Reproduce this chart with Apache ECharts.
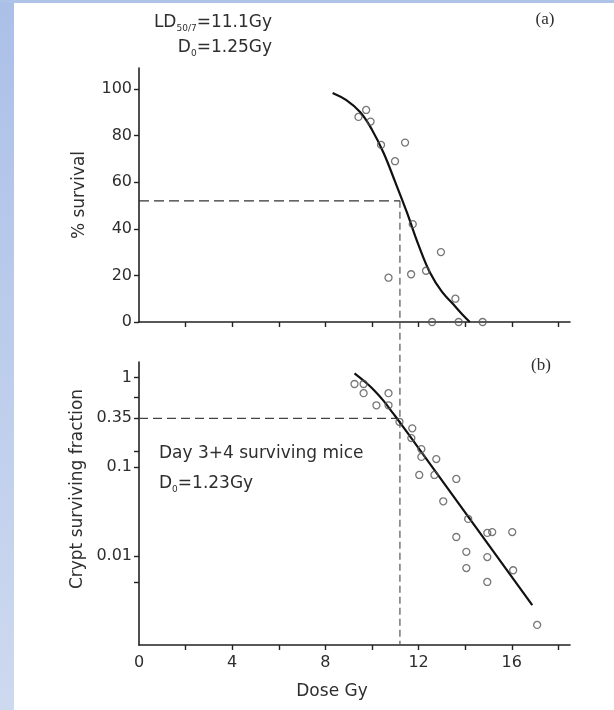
<!DOCTYPE html>
<html lang="en">
<head>
<meta charset="utf-8">
<title>Survival and crypt surviving fraction vs dose</title>
<style>
  html, body { margin: 0; padding: 0; background: #fff; }
  #stripLeft { position: absolute; left: 0; top: 0; width: 14px; height: 710px; background: linear-gradient(#abc0e8, #cdd9ef); }
  #stripTop { position: absolute; left: 0; top: 0; width: 614px; height: 3px; background: #afc3e9; }
  #main { position: absolute; left: 0; top: 0; width: 614px; height: 710px; }
</style>
</head>
<body>
<div id="stripLeft"></div>
<div id="stripTop"></div>
<div id="main"></div>

<script src="https://cdn.jsdelivr.net/npm/echarts@6/dist/echarts.min.js"></script>
<script type="text/javascript">
// (a) % survival against dose
var survDose = [9.42, 9.75, 9.94, 10.39, 11.42, 10.99, 11.75, 12.96, 12.32, 11.68, 10.71, 13.58, 12.58, 13.72, 14.75];
var survPct  = [88, 91, 86, 76, 77, 69, 42, 30, 22, 20.5, 19, 10, 0, 0, 0];
// fitted survival curve
var survFitDose = [8.31, 8.9, 9.5, 10.0, 10.5, 11.0, 11.5, 12.0, 12.5, 13.0, 13.5, 13.9, 14.2];
var survFitPct  = [98.3, 95.2, 90, 82.5, 72.5, 60, 47, 33, 21, 13, 7.5, 3, 0];

// (b) crypt surviving fraction against dose
var cryptDose = [9.25, 9.64, 9.64, 10.71, 10.19, 10.71, 11.18, 11.73, 11.69, 12.12, 12.12, 12.76, 12.68, 12.03,
                 13.62, 13.06, 14.13, 13.62, 14.05, 14.05, 14.95, 15.16, 16.02, 14.95, 14.95, 16.06, 17.09];
var cryptFrac = [0.85, 0.85, 0.67, 0.67, 0.49, 0.49, 0.32, 0.27, 0.21, 0.158, 0.129, 0.122, 0.081, 0.081,
                 0.073, 0.041, 0.026, 0.0163, 0.0111, 0.0073, 0.0181, 0.0185, 0.0185, 0.0097, 0.0051, 0.0069, 0.00168];
// fitted curve: shoulder then straight exponential tail
var cryptFitDose = [9.25, 9.7, 10.1, 10.5, 10.9, 11.18, 12.0, 16.88];
var cryptFitFrac = [1.12, 0.9, 0.72, 0.55, 0.4, 0.32, 0.162, 0.0028];

// reference lines
var ld50Dose = 11.2;
var halfPct = 52;
var cryptAtLd = 0.35;

// tick labels
var doseLabels = [0, 4, 8, 12, 16];
var doseTicks = [2, 4, 6, 8, 10, 12, 14, 16, 18];
var pctLabels = [0, 20, 40, 60, 80, 100];
var fracLabels = [0.01, 0.1, 0.35, 1];
var fracTicks = [0.005, 0.01, 0.15, 0.1, 0.35, 0.6, 1];

var FONT = 'DejaVu Sans';
var SERIF = 'Liberation Serif';
var INK = '#2e2e2e';

function pairs(xs, ys) {
  return xs.map(function (x, i) { return [x, ys[i]]; });
}

var chart = echarts.init(document.getElementById('main'));

var axisLine = { show: true, onZero: false, lineStyle: { color: '#222', width: 1.6 } };
var tickStyle = { color: '#222', width: 1.4 };

var option = {
  animation: false,
  grid: [
    { left: 139, top: 68, width: 431, height: 254 },
    { left: 139, top: 362, width: 431, height: 283 }
  ],
  xAxis: [
    {
      gridIndex: 0, type: 'value', min: 0, max: 18.5,
      axisLine: axisLine, splitLine: { show: false },
      axisTick: { length: 5, lineStyle: tickStyle, customValues: doseTicks },
      axisLabel: { show: false }
    },
    {
      gridIndex: 1, type: 'value', min: 0, max: 18.5,
      axisLine: axisLine, splitLine: { show: false },
      axisTick: { length: 5, lineStyle: tickStyle, customValues: doseTicks },
      axisLabel: { customValues: doseLabels, margin: 10, fontFamily: FONT, fontSize: 16, color: INK }
    }
  ],
  yAxis: [
    {
      gridIndex: 0, type: 'value', min: 0, max: 109,
      axisLine: axisLine, splitLine: { show: false },
      axisTick: { length: 5, lineStyle: tickStyle, customValues: pctLabels },
      axisLabel: { customValues: pctLabels, margin: 7, fontFamily: FONT, fontSize: 16, color: INK }
    },
    {
      gridIndex: 1, type: 'log', logBase: 10, min: 0.001, max: 1.5,
      axisLine: axisLine, splitLine: { show: false },
      axisTick: { length: 5, lineStyle: tickStyle, customValues: fracTicks },
      axisLabel: {
        customValues: fracLabels, margin: 7, fontFamily: FONT, fontSize: 16, color: INK,
        formatter: function (v) { return String(+Number(v).toPrecision(3)); }
      }
    }
  ],
  series: [
    {
      type: 'line', xAxisIndex: 0, yAxisIndex: 0, data: pairs(survFitDose, survFitPct),
      smooth: 0.4, symbol: 'none', lineStyle: { color: '#111', width: 2.2 }, z: 3
    },
    {
      type: 'line', xAxisIndex: 0, yAxisIndex: 0, data: [[0, halfPct], [ld50Dose, halfPct]],
      symbol: 'none', lineStyle: { color: '#333', width: 1.3, type: [10, 5] }, z: 2
    },
    {
      type: 'scatter', xAxisIndex: 0, yAxisIndex: 0, data: pairs(survDose, survPct),
      symbol: 'circle', symbolSize: 7,
      itemStyle: { color: 'rgba(255,255,255,0)', borderColor: '#555', borderWidth: 1.3 }, z: 4
    },
    {
      type: 'line', xAxisIndex: 1, yAxisIndex: 1, data: pairs(cryptFitDose, cryptFitFrac),
      smooth: 0.3, symbol: 'none', lineStyle: { color: '#111', width: 2.2 }, z: 3
    },
    {
      type: 'line', xAxisIndex: 1, yAxisIndex: 1, data: [[0, cryptAtLd], [ld50Dose - 0.15, cryptAtLd]],
      symbol: 'none', lineStyle: { color: '#444', width: 1.3, type: [9, 5] }, z: 2
    },
    {
      type: 'scatter', xAxisIndex: 1, yAxisIndex: 1, data: pairs(cryptDose, cryptFrac),
      symbol: 'circle', symbolSize: 7,
      itemStyle: { color: 'rgba(255,255,255,0)', borderColor: '#555', borderWidth: 1.3 }, z: 4
    }
  ]
};
chart.setOption(option);

// vertical LD50 line runs from panel (a) down through panel (b)
var pTop = chart.convertToPixel({ gridIndex: 0 }, [ld50Dose, halfPct]);
var pBot = chart.convertToPixel({ gridIndex: 1 }, [ld50Dose, 0.001]);

function txt(x, y, text, size, family, extra) {
  var el = {
    type: 'text', x: x, y: y, z: 10,
    style: { text: text, fontFamily: family, fontSize: size, fill: INK, align: 'center', verticalAlign: 'middle' }
  };
  if (extra) { for (var k in extra) { el[k] = extra[k]; } }
  return el;
}

var subRich = {
  n: { fontFamily: FONT, fontSize: 17, lineHeight: 20, verticalAlign: 'middle', fill: INK },
  s: { fontFamily: FONT, fontSize: 9, lineHeight: 9, verticalAlign: 'bottom', fill: INK }
};

chart.setOption({
  graphic: [
    {
      type: 'line', z: 1,
      shape: { x1: pTop[0], y1: pTop[1], x2: pBot[0], y2: pBot[1] },
      style: { stroke: '#555', lineWidth: 1.2, lineDash: [7, 4] }
    },
    {
      type: 'text', x: 272, y: 23, z: 10,
      style: { text: '{n|LD}{s|50/7}{n|=11.1Gy}', rich: subRich, align: 'right', verticalAlign: 'middle' }
    },
    {
      type: 'text', x: 272, y: 48, z: 10,
      style: { text: '{n|D}{s|0}{n|=1.25Gy}', rich: subRich, align: 'right', verticalAlign: 'middle' }
    },
    {
      type: 'text', x: 159, y: 454, z: 10,
      style: { text: 'Day 3+4 surviving mice', fontFamily: FONT, fontSize: 17, fill: INK, align: 'left', verticalAlign: 'middle' }
    },
    {
      type: 'text', x: 159, y: 484, z: 10,
      style: { text: '{n|D}{s|0}{n|=1.23Gy}', rich: subRich, align: 'left', verticalAlign: 'middle' }
    },
    txt(545, 20, '(a)', 17, SERIF, null),
    txt(541, 366, '(b)', 17, SERIF, null),
    txt(80, 195, '% survival', 17, FONT, { rotation: Math.PI / 2 }),
    txt(78, 489, 'Crypt surviving fraction', 17, FONT, { rotation: Math.PI / 2 }),
    txt(332, 692, 'Dose Gy', 17, FONT, null)
  ]
});
</script>
</body>
</html>
